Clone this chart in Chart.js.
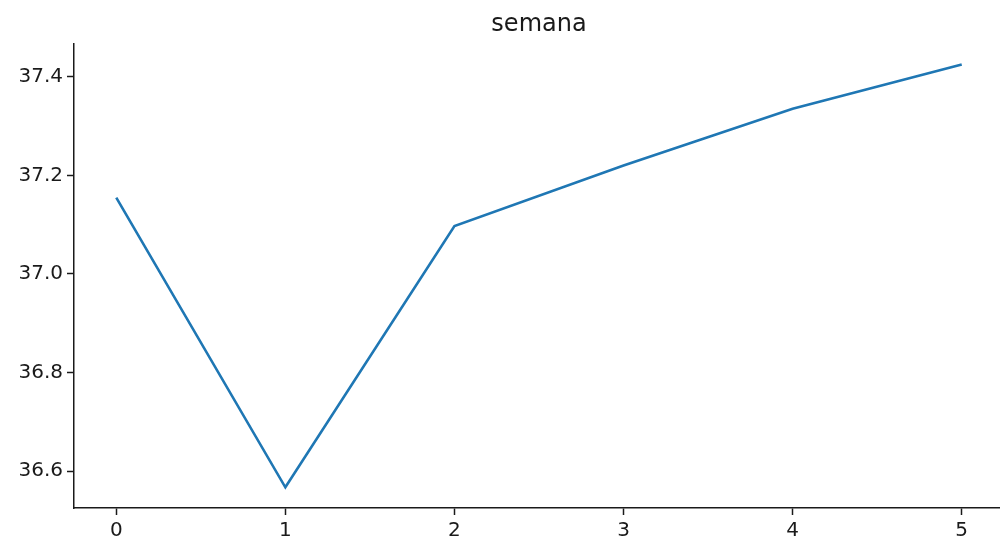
<!DOCTYPE html>
<html lang="es">
<head>
    <meta charset="UTF-8">
    <title>semana</title>
    <style>
        html, body { margin: 0; padding: 0; background: #fff; overflow: hidden; }
        #wrap { width: 1010px; height: 542px; position: relative; }
    </style>
</head>
<body>
<div id="wrap"><canvas id="chart"></canvas></div>

<script src="https://cdn.jsdelivr.net/npm/chart.js"></script>
<script>
    // data
    const semanas = [0, 1, 2, 3, 4, 5];
    const valores = [37.155, 36.567, 37.097, 37.22, 37.335, 37.425];
    const yTicks = [36.6, 36.8, 37.0, 37.2, 37.4];
    const xTicks = [0, 1, 2, 3, 4, 5];

    const fontFamily = "'DejaVu Sans', sans-serif";
    const ink = '#1a1a1a';

    new Chart(document.getElementById('chart'), {
        type: 'line',
        data: {
            datasets: [{
                label: 'semana',
                data: semanas.map((s, i) => ({ x: s, y: valores[i] })),
                borderColor: '#1f77b4',
                borderWidth: 2.6,
                pointRadius: 0,
                tension: 0,
                fill: false
            }]
        },
        options: {
            responsive: true,
            maintainAspectRatio: false,
            animation: false,
            layout: { padding: { left: 0, right: 6, top: 0, bottom: 0 } },
            plugins: {
                legend: { display: false },
                tooltip: { enabled: false },
                title: {
                    display: true,
                    fullSize: false, // centre over the plot area like the original
                    text: 'semana',
                    color: ink,
                    font: { family: fontFamily, size: 24, weight: 'normal' },
                    padding: { top: 10, bottom: 5 }
                }
            },
            scales: {
                x: {
                    type: 'linear',
                    min: -0.25,
                    max: 5.25,
                    afterBuildTicks: axis => { axis.ticks = xTicks.map(v => ({ value: v })); },
                    afterFit: axis => { axis.height = 34; },
                    ticks: {
                        color: ink,
                        padding: 4,
                        font: { family: fontFamily, size: 20 },
                        callback: v => String(v)
                    },
                    grid: { drawOnChartArea: false, drawTicks: true, tickLength: 7, tickWidth: 1.5, tickColor: ink },
                    border: { display: true, color: ink, width: 1.5 }
                },
                y: {
                    min: 36.525,
                    max: 37.467,
                    afterBuildTicks: axis => { axis.ticks = yTicks.map(v => ({ value: v })); },
                    afterFit: axis => { axis.width = 74; },
                    ticks: {
                        color: ink,
                        padding: 4,
                        font: { family: fontFamily, size: 20 },
                        callback: v => v.toFixed(1)
                    },
                    grid: { drawOnChartArea: false, drawTicks: true, tickLength: 7, tickWidth: 1.5, tickColor: ink },
                    border: { display: true, color: ink, width: 1.5 }
                }
            }
        }
    });
</script>
</body>
</html>
